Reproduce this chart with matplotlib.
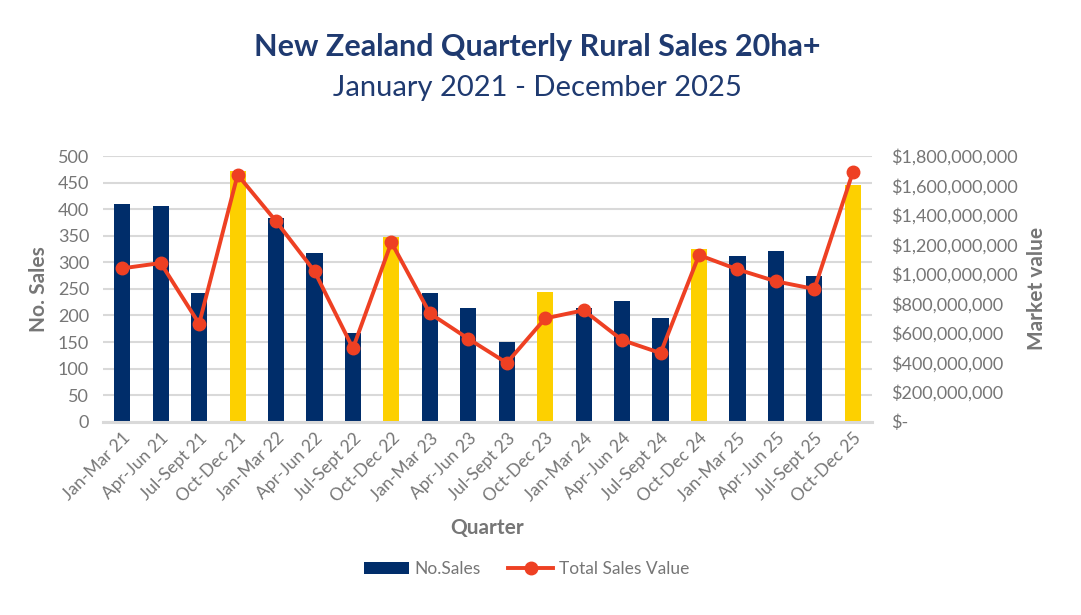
import matplotlib.pyplot as plt
from matplotlib.ticker import FuncFormatter

plt.rcParams['font.family'] = ['Lato', 'DejaVu Sans']

quarters = ['Jan-Mar 21', 'Apr-Jun 21', 'Jul-Sept 21', 'Oct-Dec 21',
            'Jan-Mar 22', 'Apr-Jun 22', 'Jul-Sept 22', 'Oct-Dec 22',
            'Jan-Mar 23', 'Apr-Jun 23', 'Jul-Sept 23', 'Oct-Dec 23',
            'Jan-Mar 24', 'Apr-Jun 24', 'Jul-Sept 24', 'Oct-Dec 24',
            'Jan-Mar 25', 'Apr-Jun 25', 'Jul-Sept 25', 'Oct-Dec 25']
no_sales = [409, 406, 242, 472, 383, 317, 167, 347, 242, 214,
            150, 244, 214, 227, 195, 325, 312, 322, 274, 445]
total_value = [1.039e9, 1.075e9, 0.664e9, 1.673e9, 1.358e9, 1.019e9, 0.497e9, 1.215e9,
               0.734e9, 0.562e9, 0.398e9, 0.700e9, 0.755e9, 0.553e9, 0.465e9, 1.129e9,
               1.032e9, 0.951e9, 0.899e9, 1.690e9]

navy = '#002D6A'
gold = '#FDD000'
red = '#EE4023'
grey = '#767676'
title_col = '#1F3A70'

bar_colors = [gold if q.startswith('Oct') else navy for q in quarters]

fig = plt.figure(figsize=(10.81, 6.15), dpi=100)
ax = fig.add_axes([0.0953, 0.3143, 0.7114, 0.432])
x = range(len(quarters))
bars = ax.bar(x, no_sales, width=0.42, color=bar_colors, zorder=2, label='No.Sales')
ax.set_xlim(-0.5, len(quarters) - 0.5)
ax.set_ylim(0, 500)
ax.set_yticks(range(0, 501, 50))
ax.grid(axis='y', color='#D9D9D9', linewidth=1.5, zorder=0)
for s in ['top', 'right', 'left']:
    ax.spines[s].set_visible(False)
ax.spines['bottom'].set_color('#D9D9D9')
ax.spines['bottom'].set_linewidth(2.2)
ax.tick_params(axis='y', length=0, colors=grey, labelsize=13, pad=10)
ax.tick_params(axis='x', length=0, colors=grey, pad=6)
ax.set_xticks(list(x))
ax.set_xticklabels(quarters, rotation=45, ha='right', rotation_mode='anchor', fontsize=12.5)
ax.set_ylabel('No. Sales', color=grey, fontsize=15, fontweight='bold', labelpad=6)
ax.set_xlabel('Quarter', color=grey, fontsize=15, fontweight='bold', labelpad=9)

ax2 = ax.twinx()
line, = ax2.plot(x, total_value, color=red, lw=2.8, marker='o', markersize=9,
                 zorder=3, label='Total Sales Value')
ax2.set_ylim(0, 1.8e9)
ax2.set_yticks([i * 2e8 for i in range(10)])
ax2.yaxis.set_major_formatter(FuncFormatter(lambda v, p: '$-' if v == 0 else f'${v:,.0f}'))
for s in ['top', 'right', 'left', 'bottom']:
    ax2.spines[s].set_visible(False)
ax2.tick_params(length=0, colors=grey, labelsize=13, pad=14)
ax2.set_ylabel('Market value', color=grey, fontsize=15, fontweight='bold', labelpad=6)

fig.text(0.497, 0.923, 'New Zealand Quarterly Rural Sales 20ha+', ha='center', va='center',
         fontsize=22, fontweight='bold', color=title_col)
fig.text(0.497, 0.857, 'January 2021 - December 2025', ha='center', va='center',
         fontsize=21, color=title_col)

fig.legend([bars, line], ['No.Sales', 'Total Sales Value'], loc='center',
           bbox_to_anchor=(0.487, 0.075), ncol=2, frameon=False, fontsize=12.5,
           labelcolor=grey, handlelength=2.6, handletextpad=0.3, columnspacing=1.6)

fig.savefig('out.png', dpi=100)
